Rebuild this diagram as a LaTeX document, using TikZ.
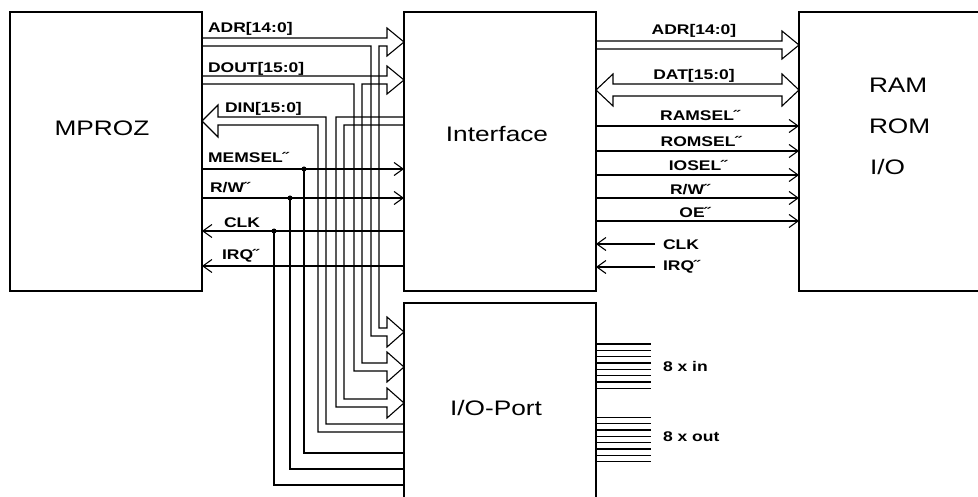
\documentclass[tikz,border=0pt]{standalone}
\usepackage{fontspec}
\setmainfont{Liberation Sans}[FakeStretch=1.25]
\usetikzlibrary{arrows.meta}

\begin{document}
\begin{tikzpicture}[x=1pt, y=-1pt,
    every node/.style={inner sep=0pt, outer sep=0pt},
    block/.style={draw, line width=1.3pt, anchor=north west},
    bus/.style={line width=1.1pt, line join=miter},
    wire/.style={line width=1.1pt},
    sig/.style={line width=1.1pt, -{Straight Barb[length=9pt, width=13pt]}},
    siglabel/.style={font=\fontsize{14}{16}\selectfont\bfseries},
    title/.style={font=\fontsize{21}{24}\selectfont},
    dot/.style={circle, fill, minimum size=5pt},
]
\useasboundingbox (0,0) rectangle (978,497);
\clip (0,0) rectangle (978,497);

% Blocks
\node[block, minimum width=192pt, minimum height=279pt] (mproz) at (10,12) {};
\node[block, minimum width=192pt, minimum height=279pt] (iface) at (404,12) {};
\node[block, minimum width=200pt, minimum height=279pt] (mem) at (799,12) {};
\node[block, minimum width=192pt, minimum height=220pt] (port) at (404,303) {};

% Block titles
\node[title] (tMproz) at (102,128) {MPROZ};
\node[title] (tIface) at (497,134) {Interface};
\node[title, anchor=west] (tRam) at (869,85) {RAM};
\node[title, anchor=west] (tRom) at (869,126) {ROM};
\node[title, anchor=west] (tIo) at (870,167) {I/O};
\node[title] (tPort) at (496,408) {I/O-Port};

% Buses MPROZ -> Interface / I/O-Port
\draw[bus] (202,38) -- (387,38) -- (387,28) -- (404,42) -- (387,56) -- (387,46)
    -- (379,46) -- (379,328) -- (387,328) -- (387,317) -- (404,332) -- (387,347)
    -- (387,336) -- (371,336) -- (371,46) -- (202,46);
\draw[bus] (202,76) -- (387,76) -- (387,66) -- (404,80) -- (387,94) -- (387,84)
    -- (362,84) -- (362,363) -- (387,363) -- (387,352) -- (404,367) -- (387,382)
    -- (387,371) -- (354,371) -- (354,84) -- (202,84);
\draw[bus] (404,117) -- (336,117) -- (336,407) -- (387,407) -- (387,418)
    -- (404,403) -- (387,388) -- (387,399) -- (344,399) -- (344,125) -- (404,125);
\draw[bus] (404,424) -- (326,424) -- (326,117) -- (218,117) -- (218,105)
    -- (202,121) -- (218,137) -- (218,125) -- (318,125) -- (318,432) -- (404,432);

% Bus labels
\node[siglabel, anchor=base west] (lAdr) at (208,33) {ADR[14:0]};
\node[siglabel, anchor=base west] (lDout) at (208,73) {DOUT[15:0]};
\node[siglabel, anchor=base west] (lDin) at (225,113) {DIN[15:0]};

% Control lines MPROZ <-> Interface
\node[dot] (jMem) at (304,169) {};
\node[dot] (jRw) at (290,198) {};
\node[dot] (jClk) at (274,231) {};
\draw[sig] (mproz.east |- jMem) -- (iface.west |- jMem);
\draw[sig] (mproz.east |- jRw) -- (iface.west |- jRw);
\draw[sig] (iface.west |- jClk) -- (mproz.east |- jClk);
\draw[sig] (iface.west |- 0,266) -- (mproz.east |- 0,266);
\draw[wire] (jMem.center) -- (jMem.center |- 0,453) -- (port.west |- 0,453);
\draw[wire] (jRw.center) -- (jRw.center |- 0,469) -- (port.west |- 0,469);
\draw[wire] (jClk.center) -- (jClk.center |- 0,485) -- (port.west |- 0,485);

\node[siglabel, anchor=base west] (lMem) at (208,163) {MEMSEL˝};
\node[siglabel, anchor=base west] (lRw) at (210,193) {R/W˝};
\node[siglabel, anchor=base west] (lClk) at (224,228) {CLK};
\node[siglabel, anchor=base west] (lIrq) at (222,260) {IRQ˝};

% Buses Interface -> memory
\draw[bus] (596,41) -- (782,41) -- (782,31) -- (799,45) -- (782,59) -- (782,49) -- (596,49);
\draw[bus] (613,84) -- (782,84) -- (782,74) -- (799,90) -- (782,106) -- (782,96)
    -- (613,96) -- (613,106) -- (596,90) -- (613,74) -- cycle;
\node[siglabel, anchor=base] (rAdr) at (694,35) {ADR[14:0]};
\node[siglabel, anchor=base] (rDat) at (694,80) {DAT[15:0]};

% Select and control lines
\foreach \y/\txt/\x/\ty/\nm in {126/{RAMSEL˝}/700/121/rRam, 151/{ROMSEL˝}/701/147/rRom,
    175/{IOSEL˝}/698/171/rIos, 198/{R/W˝}/690/195/rRw, 221/{OE˝}/695/218/rOe} {
  \draw[sig] (iface.east |- 0,\y) -- (mem.west |- 0,\y);
  \node[siglabel, anchor=base] (\nm) at (\x,\ty) {\txt};
}
\node[siglabel, anchor=base west, inner xsep=8pt] (rClk) at (655,250) {CLK};
\node[siglabel, anchor=base west, inner xsep=8pt] (rIrq) at (655,271) {IRQ˝};
\draw[sig] (rClk.west |- 0,244) -- (iface.east |- 0,244);
\draw[sig] (rIrq.west |- 0,267) -- (iface.east |- 0,267);

% Port pins
\foreach \k in {0,...,7} {
  \draw[wire] (596,{344+6.33*\k}) -- (651,{344+6.33*\k});
  \draw[wire] (596,{417.3+6.33*\k}) -- (651,{417.3+6.33*\k});
}
\node[siglabel, anchor=west] (pIn) at (663,366) {8 x in};
\node[siglabel, anchor=west] (pOut) at (663,437) {8 x out};

\end{tikzpicture}
\end{document}
